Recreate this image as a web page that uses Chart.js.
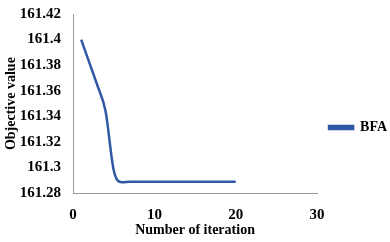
<!DOCTYPE html>
<html>
<head>
<meta charset="utf-8">
<script src="https://cdn.jsdelivr.net/npm/chart.js@4.4.1/dist/chart.umd.min.js"></script>
<style>
  html, body { margin: 0; padding: 0; background: #fff; }
  #wrap { width: 390px; height: 242px; }
</style>
</head>
<body>
<div id="wrap"><canvas id="grafico"></canvas></div>
<script>
  // datos
  var iteraciones = [1, 2, 3, 4, 5, 6, 7, 8, 9, 10, 11, 12, 13, 14, 15, 16, 17, 18, 19, 20];
  var valoresBFA = [161.4, 161.382, 161.364, 161.344, 161.298, 161.2886, 161.289, 161.289, 161.289, 161.289,
                    161.289, 161.289, 161.289, 161.289, 161.289, 161.289, 161.289, 161.289, 161.289, 161.289];
  var nombreSerie = 'BFA';

  var serif = '"Liberation Serif", "Times New Roman", serif';
  var azul = '#3158a5';

  var puntos = iteraciones.map(function(x, i) { return { x: x, y: valoresBFA[i] }; });

  var ctx = document.getElementById('grafico').getContext('2d');
  var chart = new Chart(ctx, {
    type: 'line',
    data: {
      datasets: [
        {
          label: nombreSerie,
          data: puntos,
          borderColor: azul,
          backgroundColor: azul,
          borderWidth: 2.5,
          pointRadius: 0,
          cubicInterpolationMode: 'monotone',
          fill: false
        }
      ]
    },
    options: {
      responsive: true,
      maintainAspectRatio: false,
      animation: false,
      layout: { padding: { top: 14, right: -7, left: 3, bottom: 1 } },
      plugins: {
        tooltip: { enabled: false },
        legend: {
          position: 'right',
          labels: {
            boxWidth: 24,
            boxHeight: 3,
            padding: 12,
            color: '#000',
            font: { family: serif, size: 14, weight: 'bold' }
          }
        }
      },
      scales: {
        x: {
          type: 'linear',
          min: 0,
          max: 30,
          grid: { display: false, drawTicks: true, tickLength: 13 },
          border: { display: true, color: '#9a9a9a', width: 1 },
          ticks: {
            stepSize: 10,
            padding: 0,
            color: '#000',
            font: { family: serif, size: 15, weight: 'bold' }
          },
          title: {
            display: true,
            text: 'Number of iteration',
            color: '#000',
            padding: { top: -2, bottom: 2 },
            font: { family: serif, size: 14, weight: 'bold' }
          }
        },
        y: {
          min: 161.28,
          max: 161.42,
          grid: { display: false, drawTicks: true, tickLength: 12 },
          border: { display: true, color: '#9a9a9a', width: 1 },
          ticks: {
            stepSize: 0.02,
            padding: 0,
            color: '#000',
            font: { family: serif, size: 15, weight: 'bold' },
            callback: function(v) { return String(Number(v.toFixed(2))); }
          },
          title: {
            display: true,
            text: 'Objective value',
            color: '#000',
            padding: { top: 0, bottom: 0 },
            font: { family: serif, size: 14, weight: 'bold' }
          }
        }
      }
    }
  });
</script>
</body>
</html>
